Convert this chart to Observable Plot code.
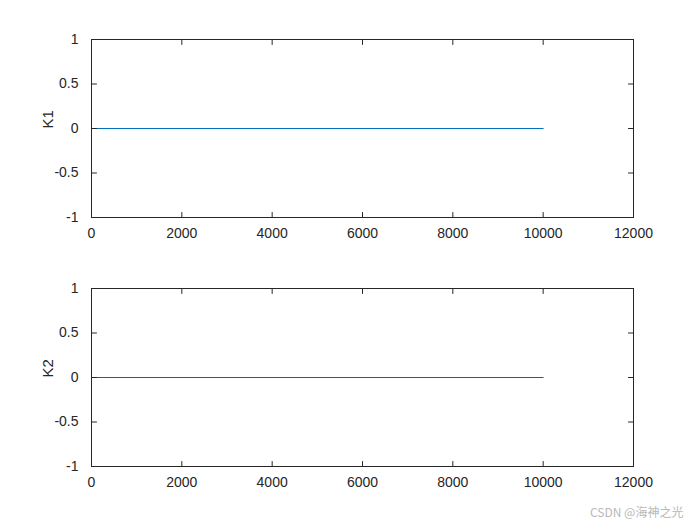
<!DOCTYPE html>
<html>
<head>
<meta charset="utf-8">
<script src="https://cdn.jsdelivr.net/npm/d3@7"></script>
<script src="https://cdn.jsdelivr.net/npm/@observablehq/plot@0.6"></script>
<style>
  html, body { margin: 0; padding: 0; background: #fff; }
  #wrap { position: relative; width: 700px; height: 525px; }
  #wrap svg { display: block; }
  #wm { position: absolute; left: 590px; top: 503px; font: 12px "Noto Sans CJK SC", "Liberation Sans", sans-serif; color: #b8b8b8; white-space: nowrap; }
</style>
</head>
<body>
<div id="wrap"></div>
<script>
// Data
const xValues = [0, 10000];
const k1Values = [0, 0];
const k2Values = [0, 0];
const xTicks = [0, 2000, 4000, 6000, 8000, 10000, 12000];
const yTicks = [-1, -0.5, 0, 0.5, 1];
const panelLabels = ["K1", "K2"];
const lineColors = ["#0072BD", "#14629b"];
const watermark = "CSDN @海神之光";

const axisColor = "#262626";
const tickShape = {draw(context, l) { context.moveTo(0, 0); context.lineTo(0, -l); }};

function panel(values, label, color, height, marginTop, marginBottom) {
  const data = xValues.map((x, i) => ({x, y: values[i]}));
  return Plot.plot({
    width: 700,
    height,
    marginLeft: 91,
    marginRight: 67,
    marginTop,
    marginBottom,
    style: {fontFamily: "'Liberation Sans', Arial, sans-serif", fontSize: "14px", color: axisColor, background: "white"},
    x: {domain: [0, 12000], ticks: xTicks, tickFormat: d => String(d)},
    y: {domain: [-1, 1], ticks: yTicks, tickFormat: d => String(d)},
    marks: [
      Plot.lineY(data, {x: "x", y: "y", stroke: color, strokeWidth: 1}),
      Plot.axisX(xTicks, {tickSize: 0, tickPadding: 11, label: null, tickFormat: d => String(d), fill: axisColor, fontSize: 14}),
      Plot.axisY(yTicks, {tickSize: 0, tickPadding: 13, label: null, tickFormat: d => String(d), fill: axisColor, fontSize: 14}),
      Plot.vector(xTicks, {x: d => d, y: -1, length: 5, rotate: 0, anchor: "start", shape: tickShape, stroke: axisColor, strokeWidth: 1}),
      Plot.vector(xTicks, {x: d => d, y: 1, length: 5, rotate: 180, anchor: "start", shape: tickShape, stroke: axisColor, strokeWidth: 1}),
      Plot.vector(yTicks, {x: 0, y: d => d, length: 5, rotate: 90, anchor: "start", shape: tickShape, stroke: axisColor, strokeWidth: 1}),
      Plot.vector(yTicks, {x: 12000, y: d => d, length: 5, rotate: -90, anchor: "start", shape: tickShape, stroke: axisColor, strokeWidth: 1}),
      Plot.frame({stroke: axisColor, strokeWidth: 1}),
      Plot.text([label], {frameAnchor: "left", dx: -43, rotate: -90, fontSize: 15, fill: axisColor, text: d => d})
    ]
  });
}

const wrap = document.getElementById("wrap");
wrap.appendChild(panel(k1Values, panelLabels[0], lineColors[0], 250, 39, 33));
wrap.appendChild(panel(k2Values, panelLabels[1], lineColors[1], 275, 38, 59));
const wm = document.createElement("div");
wm.id = "wm";
wm.textContent = watermark;
wrap.appendChild(wm);
</script>
</body>
</html>
